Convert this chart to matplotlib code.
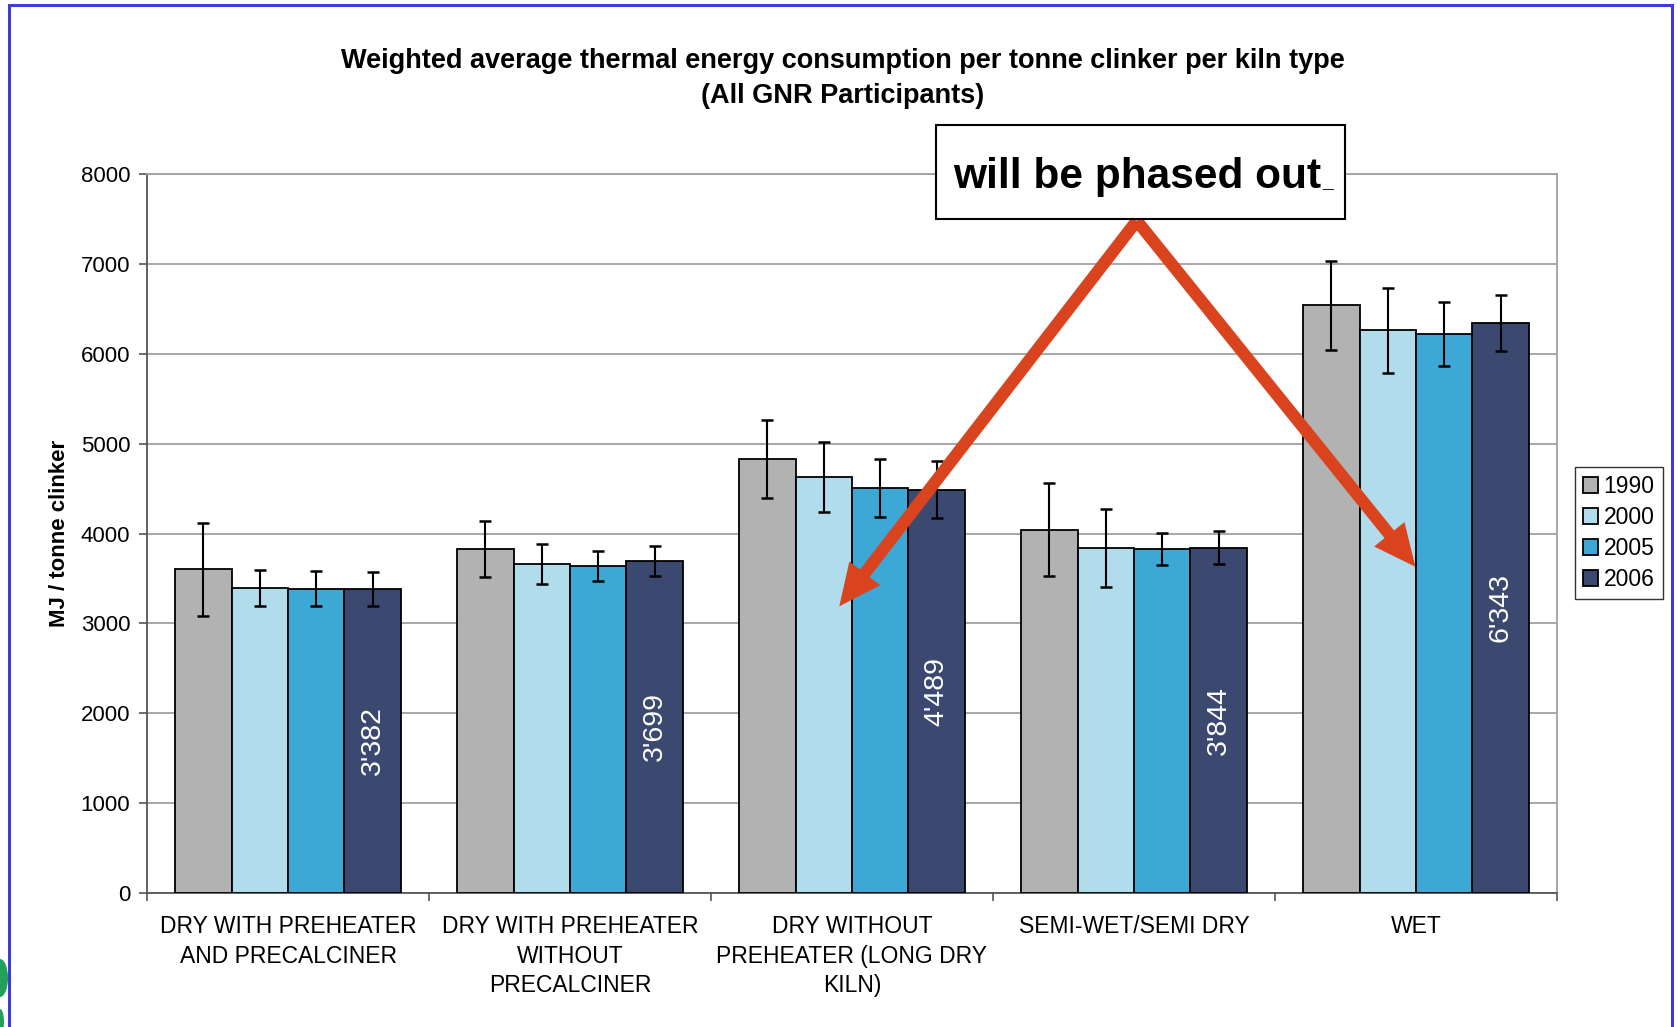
import matplotlib
matplotlib.use("Agg")
import matplotlib.pyplot as plt
from matplotlib.patches import Rectangle, Ellipse
import numpy as np

plt.rcParams['font.family'] = ['Liberation Sans', 'DejaVu Sans']

# data
kilns = ["DRY WITH PREHEATER\nAND PRECALCINER",
         "DRY WITH PREHEATER\nWITHOUT\nPRECALCINER",
         "DRY WITHOUT\nPREHEATER (LONG DRY\nKILN)",
         "SEMI-WET/SEMI DRY",
         "WET"]
years = ["1990", "2000", "2005", "2006"]
v1990 = [3600, 3827, 4829, 4042, 6537]
v2000 = [3396, 3660, 4626, 3839, 6259]
v2005 = [3385, 3637, 4507, 3827, 6222]
v2006 = [3382, 3699, 4489, 3844, 6343]
e1990 = [513, 310, 435, 518, 500]
e2000 = [202, 220, 388, 435, 469]
e2005 = [195, 167, 322, 179, 358]
e2006 = [190, 167, 322, 185, 307]

colors = ["#B2B2B2", "#B0DCEC", "#3DA8D6", "#3B4970"]
vals = [v1990, v2000, v2005, v2006]
errs = [e1990, e2000, e2005, e2006]

fig = plt.figure(figsize=(16.81, 10.27), dpi=100)
ax = fig.add_axes([147/1681, 1-893/1027, 1410/1681, 719/1027])

x = np.arange(len(kilns))
w = 0.2
for k in range(4):
    xs = x + (k - 1.5) * w
    ax.bar(xs, vals[k], w, color=colors[k], edgecolor="black", linewidth=1.3,
           label=years[k], zorder=3)
    ax.errorbar(xs, vals[k], yerr=errs[k], fmt="none", ecolor="black",
                elinewidth=1.5, capsize=4.5, capthick=1.8, zorder=4)

# value labels in the 2006 bars
for i, v in enumerate(v2006):
    ax.text(x[i] + 1.5 * w, v / 2, f"{v:,}".replace(",", "'"), rotation=90,
            color="white", ha="center", va="center", fontsize=20.5, zorder=5)

ax.set_xlim(-0.5, 4.5)
ax.set_ylim(0, 8000)
ax.set_yticks(np.arange(0, 8001, 1000))
ax.yaxis.grid(True, color="#A0A0A0", linewidth=1.3, zorder=0)
ax.set_axisbelow(True)
ax.set_xticks(x)
ax.set_xticklabels(kilns, fontsize=16.5, linespacing=1.35)
ax.set_xticks(np.arange(-0.5, 4.6, 1), minor=True)
ax.tick_params(axis="x", which="major", length=0, pad=16)
ax.tick_params(axis="x", which="minor", length=6, width=1.2, color="#555555")
ax.tick_params(axis="y", labelsize=16, length=6, width=1.2, color="#555555", pad=6)
for s in ["left", "bottom"]:
    ax.spines[s].set_color("#555555")
    ax.spines[s].set_linewidth(1.3)
for s in ["top", "right"]:
    ax.spines[s].set_color("#A0A0A0")
    ax.spines[s].set_linewidth(1.3)
ax.set_ylabel("MJ / tonne clinker", fontsize=16, fontweight="bold", labelpad=8)

fig.text(843/1681, 1-78.5/1027,
         "Weighted average thermal energy consumption per tonne clinker per kiln type\n(All GNR Participants)",
         ha="center", va="center", fontsize=19.5, fontweight="bold", linespacing=1.45)

leg = fig.legend(loc="center left", bbox_to_anchor=(1575/1681, 1-533/1027),
                 fontsize=16.5, frameon=True, fancybox=False, edgecolor="black",
                 handlelength=0.65, handleheight=0.65, handletextpad=0.25,
                 labelspacing=0.35, borderpad=0.35, borderaxespad=0)
leg.get_frame().set_linewidth(1.0)

# arrows from the callout
red = "#D9441F"
apex = (3.01, 7480)
for tip in [(1.955, 3190), (3.998, 3630)]:
    ax.annotate("", xy=tip, xytext=apex, zorder=6,
                arrowprops=dict(arrowstyle="simple,head_length=0.75,head_width=0.7,tail_width=0.22",
                                mutation_scale=40, fc=red, ec=red, lw=0,
                                shrinkA=0, shrinkB=0))

fig.add_artist(Rectangle((936/1681, 1-219/1027), 409/1681, 94/1027,
                         transform=fig.transFigure, fc="white", ec="black", lw=1.5, zorder=7))
fig.text(953/1681, 1-188/1027, "will be phased out", ha="left", va="baseline",
         fontsize=30.5, fontweight="bold", zorder=8)
fig.text(1322/1681, 1-188/1027, "_", ha="left", va="baseline",
         fontsize=14, fontweight="bold", zorder=8)

# slide frame and logo bits
fig.add_artist(Rectangle((9/1681, -0.05), 1663/1681, 1.05 - 5/1027,
                         transform=fig.transFigure, fill=False, ec="#3C3CDC", lw=2.2))
fig.add_artist(Ellipse((0/1681, 1-978/1027), 16/1681, 38/1027,
                       transform=fig.transFigure, fc="#22A05A", ec="none"))
fig.add_artist(Ellipse((0/1681, 1-1022/1027), 8/1681, 26/1027,
                       transform=fig.transFigure, fc="#22A05A", ec="none"))

fig.savefig("out.png", dpi=100)
